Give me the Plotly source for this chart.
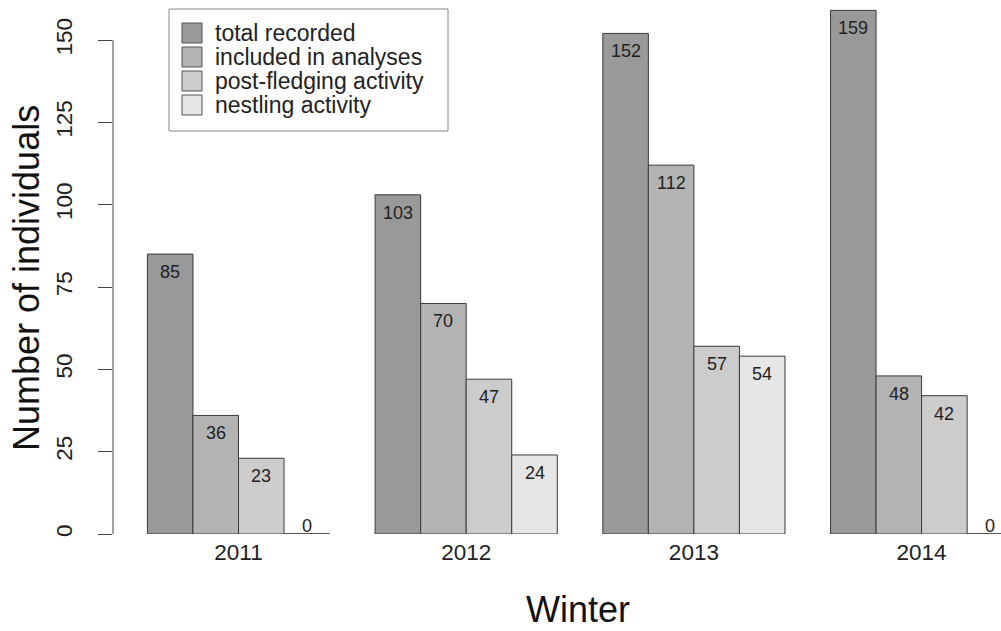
import plotly.graph_objects as go

# Winter survey counts
winters = ["2011", "2012", "2013", "2014"]
series_names = ["total recorded", "included in analyses",
                "post-fledging activity", "nestling activity"]
total_recorded = [85, 103, 152, 159]
included_in_analyses = [36, 70, 112, 48]
post_fledging = [23, 47, 57, 42]
nestling = [0, 24, 54, 0]

series_values = [total_recorded, included_in_analyses, post_fledging, nestling]
fills = ["#999999", "#b3b3b3", "#cccccc", "#e6e6e6"]
edge = "#3a3a3a"
FONT = "Liberation Sans, Arial, sans-serif"

W, H = 1001, 631
L, R, T, B = 113, 0, 0, 97
BARGAP = 0.2
nser = len(series_values)
slot = (1 - BARGAP) / nser


def xp(px):
    return (px - L) / (W - L - R)


def yp(py):
    return (H - B - py) / (H - T - B)


fig = go.Figure()
for name, vals, col in zip(series_names, series_values, fills):
    fig.add_trace(go.Bar(
        x=winters, y=vals, name=name,
        marker=dict(color=col, line=dict(color=edge, width=1)),
        showlegend=False,
    ))

shapes = []
annotations = []
for j, vals in enumerate(series_values):
    for i, v in enumerate(vals):
        xc = i - (1 - BARGAP) / 2 + slot * (j + 0.5)
        if v == 0:
            # zero-height bar shows as its outline on the baseline
            shapes.append(dict(type="line", xref="x", yref="y",
                               x0=xc - slot / 2, x1=xc + slot / 2, y0=0, y1=0,
                               line=dict(color=edge, width=1)))
            annotations.append(dict(x=xc, y=v, xref="x", yref="y", text=str(v),
                                    showarrow=False, yanchor="middle", yshift=8,
                                    font=dict(family=FONT, size=18, color="#222")))
        else:
            annotations.append(dict(x=xc, y=v, xref="x", yref="y", text=str(v),
                                    showarrow=False, yanchor="middle", yshift=-18,
                                    font=dict(family=FONT, size=18, color="#222")))

# y axis line spans only the tick range
shapes.append(dict(type="line", xref="paper", yref="y", x0=0, x1=0, y0=0, y1=150,
                   line=dict(color="#444", width=1)))

# legend box
shapes.append(dict(type="rect", xref="paper", yref="paper",
                   x0=xp(169), x1=xp(448), y0=yp(9), y1=yp(131),
                   line=dict(color="#888", width=1), fillcolor="white", layer="above"))
for k, (name, col) in enumerate(zip(series_names, fills)):
    cy = 33 + 24 * k
    shapes.append(dict(type="rect", xref="paper", yref="paper",
                       x0=xp(182), x1=xp(202), y0=yp(cy - 10), y1=yp(cy + 10),
                       line=dict(color="#555", width=1), fillcolor=col, layer="above"))
    annotations.append(dict(x=xp(213), y=yp(cy), xref="paper", yref="paper",
                            text=name, showarrow=False, xanchor="left", yanchor="middle",
                            font=dict(family=FONT, size=23, color="#222")))

# axis titles
annotations.append(dict(x=xp(578), y=yp(609), xref="paper", yref="paper",
                        text="Winter", showarrow=False, xanchor="center", yanchor="middle",
                        font=dict(family=FONT, size=36, color="#111")))
annotations.append(dict(x=xp(27), y=yp(278), xref="paper", yref="paper",
                        text="Number of individuals", showarrow=False, textangle=-90,
                        xanchor="center", yanchor="middle",
                        font=dict(family=FONT, size=36, color="#111")))

# category 0 sits at pixel 238.5; one category spans 227.7 px
unit = 227.7
x_lo = (L - 238.5) / unit
x_hi = (W - R - 238.5) / unit

fig.update_layout(
    width=W, height=H,
    margin=dict(l=L, r=R, t=T, b=B),
    paper_bgcolor="white", plot_bgcolor="white",
    barmode="group", bargap=BARGAP, bargroupgap=0,
    shapes=shapes, annotations=annotations,
    xaxis=dict(type="category", range=[x_lo, x_hi], showgrid=False, showline=False,
               zeroline=False, ticks="", ticklabelstandoff=2,
               tickfont=dict(family=FONT, size=22.5, color="#222")),
    yaxis=dict(range=[0, (H - B - T) / 3.2933], tickvals=[0, 25, 50, 75, 100, 125, 150],
               showgrid=False, showline=False, zeroline=False, ticks="outside",
               ticklen=14, tickcolor="#444", tickangle=-90, ticklabelstandoff=17,
               tickfont=dict(family=FONT, size=22.5, color="#222")),
    font=dict(family=FONT),
)

fig.write_html("out.html")
